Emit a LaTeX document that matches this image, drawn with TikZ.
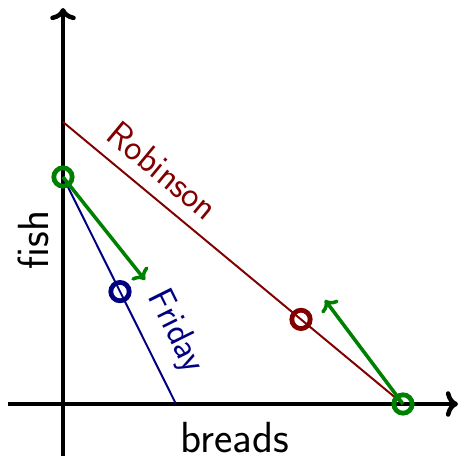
\documentclass[tikz,border=0pt]{standalone}
\usepackage{tikz}
\usetikzlibrary{arrows.meta,calc}

\colorlet{robcol}{red!50!black}
\colorlet{fricol}{blue!50!black}
\colorlet{movecol}{green!50!black}

\begin{document}
\begin{tikzpicture}[>=To, font=\sffamily\fontsize{31}{36}\selectfont,
  axis/.style={line width=3.2pt},
  budget/.style={line width=1.4pt},
  lbl/.style={font=\sffamily\fontsize{26}{31}\selectfont},
  pt/.style={circle, draw, line width=3.4pt, minimum size=0.46cm, inner sep=0pt},
  move/.style={->, line width=2.5pt, draw=movecol}]
  \useasboundingbox (-1.575,-1.35) rectangle (9.925,10.1);
  % axes
  \coordinate (o) at (0,0);
  \draw[axis,->] (-1.375,0) -- (9.875,0) coordinate (xend);
  \draw[axis,->] (0,-1.3) -- (0,9.9) coordinate (yend);
  \node[inner sep=1pt] (xlab) at (4.3,-0.84) {breads};
  \node[rotate=90] (ylab) at (-0.75,4.1) {fish};
  % budget lines
  \coordinate (rtop) at (0,7.05);
  \coordinate (rbot) at (8.5,0);
  \coordinate (ftop) at (0,5.675);
  \coordinate (fbot) at (2.825,0);
  \draw[budget,robcol] (rtop) -- node[lbl,sloped,above=2mm,pos=0.245,text=robcol]{Robinson} (rbot);
  \draw[budget,fricol] (ftop) -- node[lbl,sloped,above=2.4mm,pos=0.744,text=fricol]{Friday} (fbot);
  % points
  \node[pt,draw=robcol] (rob) at (5.95,2.115) {};
  \node[pt,draw=fricol] (fri) at (1.425,2.81) {};
  \node[pt,draw=movecol] (gfish) at (ftop) {};
  \node[pt,draw=movecol] (gbread) at (rbot) {};
  % moves
  \draw[move] (gfish.center) -- (2.05,3.1);
  \draw[move] (gbread.center) -- (6.55,2.6);
\end{tikzpicture}
\end{document}
